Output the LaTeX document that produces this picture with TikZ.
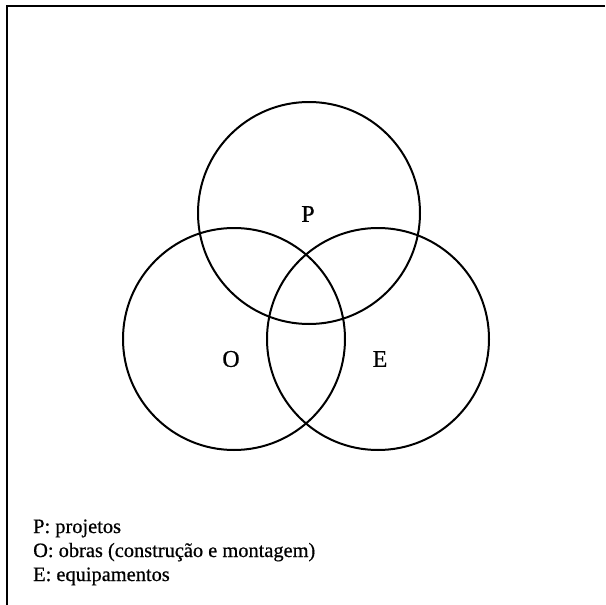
\documentclass[tikz,border=0pt]{standalone}
\usepackage{fontspec}
\setmainfont{Liberation Serif}
\newfontfamily\scanfont{Liberation Serif}[FakeBold=0.6]
\begin{document}
\begin{tikzpicture}[x=1pt,y=-1pt,
  setcircle/.style={draw=black,line width=2pt},
  frameline/.style={draw=black,line width=2.5pt},
  setlabel/.style={font=\scanfont\fontsize{24}{28}\selectfont,inner sep=0pt},
  legend/.style={font=\scanfont\fontsize{20.4}{24}\selectfont,anchor=base west,inner sep=0pt}]
\useasboundingbox (0,0) rectangle (605,605);
\fill[white] (0,0) rectangle (605,605);
\coordinate (fl) at (7,605);
\coordinate (fc) at (7,6);
\coordinate (fr) at (605,6);
\draw[frameline] (fl) -- (fc) -- (fr);
\draw[setcircle] (309,213) circle[radius=111];
\draw[setcircle] (234,339) circle[radius=111];
\draw[setcircle] (378,339) circle[radius=111];
\node[setlabel] (lp) at (308,214) {P};
\node[setlabel] (lo) at (231,359) {O};
\node[setlabel] (le) at (380,359) {E};
\node[legend] (l1) at (33,533) {P: projetos};
\node[legend] (l2) at (33,557) {O: obras (construção e montagem)};
\node[legend] (l3) at (33,581) {E: equipamentos};
\end{tikzpicture}
\end{document}
